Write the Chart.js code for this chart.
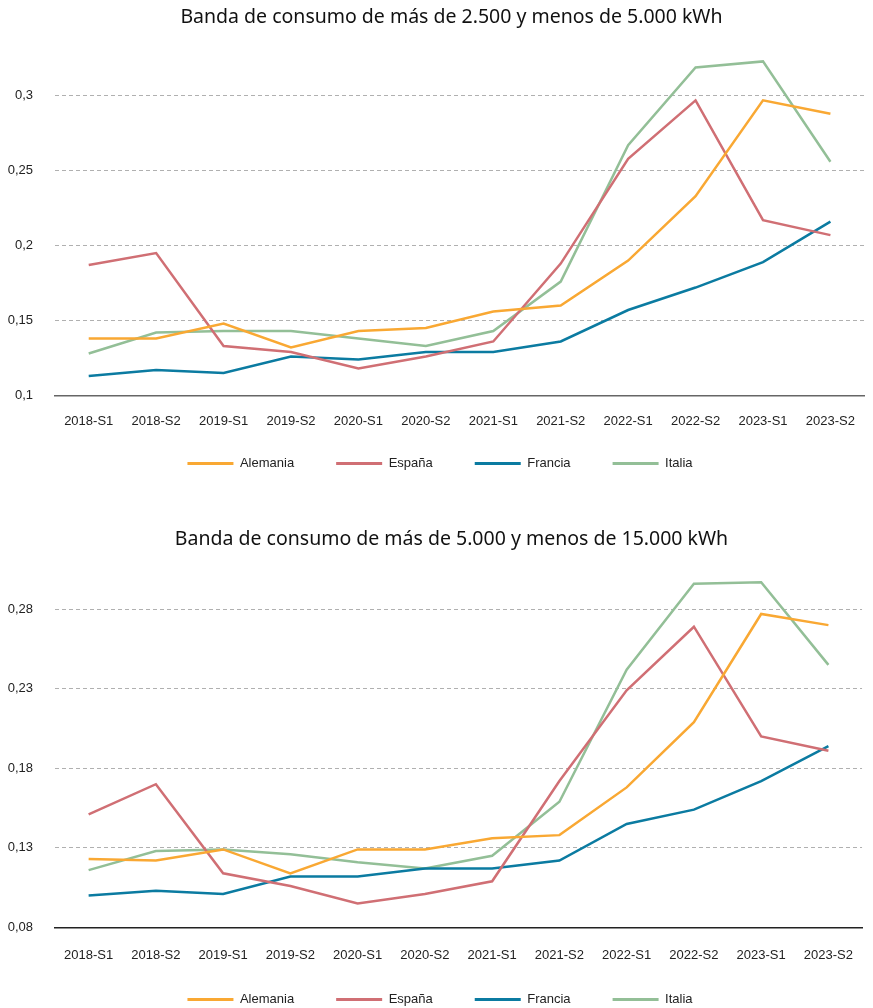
<!DOCTYPE html>
<html>
<head>
<meta charset="utf-8">
<script src="https://cdn.jsdelivr.net/npm/chart.js@4"></script>
<style>
  html, body { margin: 0; padding: 0; background: #fff; overflow: hidden; }
  .box { position: absolute; left: 0; width: 873px; }
  #b1 { top: 0; height: 480px; }
  #b2 { top: 522px; height: 490px; }
</style>
</head>
<body>
<div class="box" id="b1"><canvas id="chart1"></canvas></div>
<div class="box" id="b2"><canvas id="chart2"></canvas></div>
<script>
const periods = ['2018-S1', '2018-S2', '2019-S1', '2019-S2', '2020-S1', '2020-S2',
                 '2021-S1', '2021-S2', '2022-S1', '2022-S2', '2023-S1', '2023-S2'];
const countries = ['Alemania', 'España', 'Francia', 'Italia'];
const colors = ['#f9a833', '#d06f74', '#0b7ba1', '#93bf97'];

// banda 2.500 - 5.000 kWh
const alemania1 = [0.138, 0.138, 0.148, 0.132, 0.143, 0.145, 0.156, 0.160, 0.190, 0.233, 0.297, 0.288];
const espana1   = [0.187, 0.195, 0.133, 0.129, 0.118, 0.126, 0.136, 0.188, 0.258, 0.297, 0.217, 0.207];
const francia1  = [0.113, 0.117, 0.115, 0.126, 0.124, 0.129, 0.129, 0.136, 0.157, 0.172, 0.189, 0.216];
const italia1   = [0.128, 0.142, 0.143, 0.143, 0.138, 0.133, 0.143, 0.176, 0.267, 0.319, 0.323, 0.256];

// banda 5.000 - 15.000 kWh
const alemania2 = [0.123, 0.122, 0.129, 0.114, 0.129, 0.129, 0.136, 0.138, 0.168, 0.209, 0.277, 0.270];
const espana2   = [0.151, 0.170, 0.114, 0.106, 0.095, 0.101, 0.109, 0.172, 0.229, 0.269, 0.200, 0.191];
const francia2  = [0.100, 0.103, 0.101, 0.112, 0.112, 0.117, 0.117, 0.122, 0.145, 0.154, 0.172, 0.194];
const italia2   = [0.116, 0.128, 0.129, 0.126, 0.121, 0.117, 0.125, 0.159, 0.242, 0.296, 0.297, 0.245];

const title1 = 'Banda de consumo de más de 2.500 y menos de 5.000 kWh';
const title2 = 'Banda de consumo de más de 5.000 y menos de 15.000 kWh';

const yTicks1 = [0.1, 0.15, 0.2, 0.25, 0.3];
const yTicks2 = [0.08, 0.13, 0.18, 0.23, 0.28];

const tickFont = { family: 'Liberation Sans, Arial, sans-serif', size: 13 };

// nudges title to the right and pulls the legend up closer to the axis
// (only the top moves, so the legend clip box still covers the items)
const nudge = {
  id: 'nudge',
  afterLayout(chart, args, opts) {
    chart.titleBlock.left += opts.titleShift;
    chart.legend.top -= opts.legendShift;
  }
};

function makeChart(id, title, series, yTicks, yMax, cfg) {
  const datasets = countries.map((name, i) => ({
    label: name,
    data: series[i],
    borderColor: colors[i],
    backgroundColor: colors[i],
    borderWidth: 2.5,
    pointRadius: 0,
    tension: 0,
    fill: false
  }));

  new Chart(document.getElementById(id), {
    type: 'line',
    data: { labels: periods, datasets: datasets },
    plugins: [nudge],
    options: {
      responsive: true,
      maintainAspectRatio: false,
      animation: false,
      layout: { padding: { left: 7, right: 0, top: 0, bottom: 0 } },
      plugins: {
        nudge: { titleShift: 23, legendShift: cfg.legendShift },
        title: {
          display: true,
          text: title,
          color: '#111',
          font: { family: 'Noto Sans', size: 19.5, weight: 'normal' },
          padding: { top: 6, bottom: 26 }
        },
        legend: {
          position: 'bottom',
          maxHeight: cfg.legendHeight,
          labels: {
            boxWidth: 46,
            boxHeight: 3,
            padding: 42,
            color: '#222',
            font: tickFont,
            // plain flat bars, no stroke around them
            generateLabels: (chart) =>
              Chart.defaults.plugins.legend.labels.generateLabels(chart)
                .map(item => ({ ...item, lineWidth: 0 }))
          }
        },
        tooltip: { enabled: false }
      },
      scales: {
        x: {
          offset: true,
          grid: { display: false, drawTicks: false },
          border: { display: true, color: cfg.axisColor, width: 1.5 },
          ticks: { color: '#222', font: tickFont, padding: cfg.xPad, maxRotation: 0 }
        },
        y: {
          min: yTicks[0],
          max: yMax,
          afterBuildTicks: (axis) => {
            axis.ticks = yTicks.map(v => ({ value: v }));
          },
          afterFit: (axis) => { axis.width = 48; },
          grid: {
            color: '#b0b0b0',
            lineWidth: 1,
            drawTicks: false
          },
          border: { display: false, dash: [4, 3] },
          ticks: {
            color: '#222',
            font: tickFont,
            padding: 22,
            callback: (v) => String(+v.toFixed(2)).replace('.', ',')
          }
        }
      }
    }
  });
}

makeChart('chart1', title1, [alemania1, espana1, francia1, italia1], yTicks1, 0.327,
  { axisColor: '#666', xPad: 18, legendHeight: 33, legendShift: 32 });
makeChart('chart2', title2, [alemania2, espana2, francia2, italia2], yTicks2, 0.30,
  { axisColor: '#222', xPad: 20, legendHeight: 29, legendShift: 32 });
</script>
</body>
</html>
